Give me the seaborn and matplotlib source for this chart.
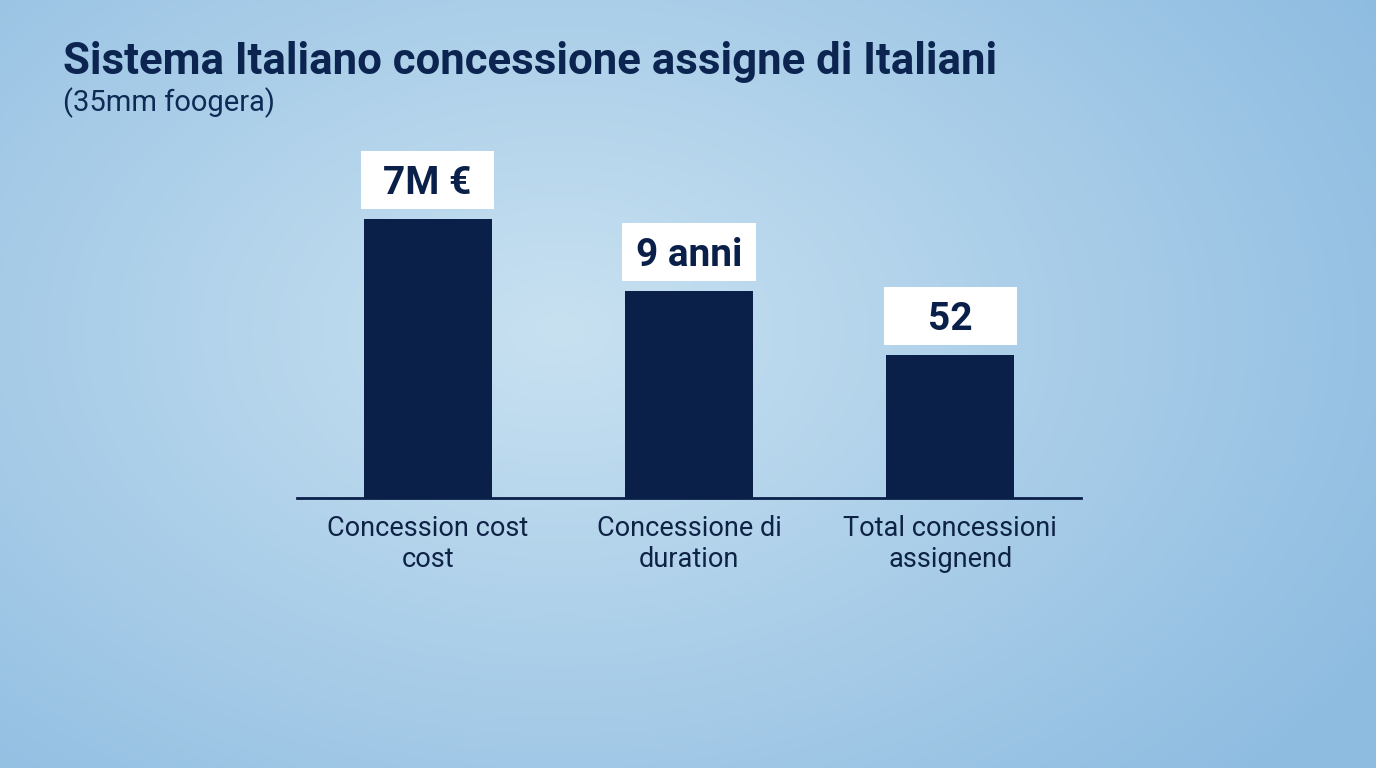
import numpy as np
import pandas as pd
import matplotlib.pyplot as plt
from matplotlib.patches import Rectangle
import seaborn as sns

# Chart data (bar heights, in arbitrary units)
categories = ['Concession cost\ncost', 'Concessione di\nduration', 'Total concessioni\nassignend']
bar_heights = [2.79, 2.07, 1.43]
value_labels = ['7M €', '9 anni', '52']

title = 'Sistema Italiano concessione assigne di Italiani'
subtitle = '(35mm foogera)'

navy = '#0b2049'
df = pd.DataFrame({'cat': categories, 'h': bar_heights})

sns.set_theme(style='white')
plt.rcParams['font.family'] = ['Roboto', 'DejaVu Sans']

fig = plt.figure(figsize=(13.76, 7.68), dpi=100)

# Soft radial background gradient
bg = fig.add_axes([0, 0, 1, 1], zorder=0)
yy, xx = np.mgrid[0:768, 0:1376]
r = np.sqrt(((xx - 560) / 950.0) ** 2 + ((yy - 330) / 650.0) ** 2)
r = np.clip(r, 0, 1)
c_in = np.array([200, 225, 241]) / 255.0
c_out = np.array([142, 188, 225]) / 255.0
img = c_in[None, None, :] * (1 - r[..., None]) + c_out[None, None, :] * r[..., None]
bg.imshow(img, aspect='auto', extent=[0, 1, 0, 1])
bg.axis('off')

ax = fig.add_axes([297 / 1376, 1 - 498 / 768, 784 / 1376, 358 / 768], zorder=1)
ax.patch.set_alpha(0)
sns.barplot(data=df, x='cat', y='h', color=navy, width=0.49, saturation=1,
            edgecolor='none', linewidth=0, ax=ax)
ax.set_xlim(-0.5, 2.5)
ax.set_ylim(0, 3.58)
ax.set_xlabel('')
ax.set_ylabel('')
ax.set_yticks([])
for s in ['top', 'right', 'left']:
    ax.spines[s].set_visible(False)
ax.spines['bottom'].set_color(navy)
ax.spines['bottom'].set_linewidth(2)
ax.tick_params(axis='x', length=0, pad=12, labelsize=19.5, labelcolor='#0d2244')

# white value boxes above each bar
box_w, box_h, gap = 0.51, 0.58, 0.10
for i, (h, lab) in enumerate(zip(bar_heights, value_labels)):
    ax.add_patch(Rectangle((i - box_w / 2, h + gap), box_w, box_h,
                           facecolor='white', edgecolor='none', clip_on=False))
    ax.text(i, h + gap + box_h / 2, lab, ha='center', va='center_baseline',
            fontsize=28, fontweight='bold', color=navy)

fig.text(63 / 1376, 1 - 62 / 768, title, fontsize=31.5, fontweight='bold',
         color='#0b2450', va='center', ha='left')
fig.text(63 / 1376, 1 - 103 / 768, subtitle, fontsize=21,
         color='#0f2a55', va='center', ha='left')

fig.savefig('out.png', dpi=100)
